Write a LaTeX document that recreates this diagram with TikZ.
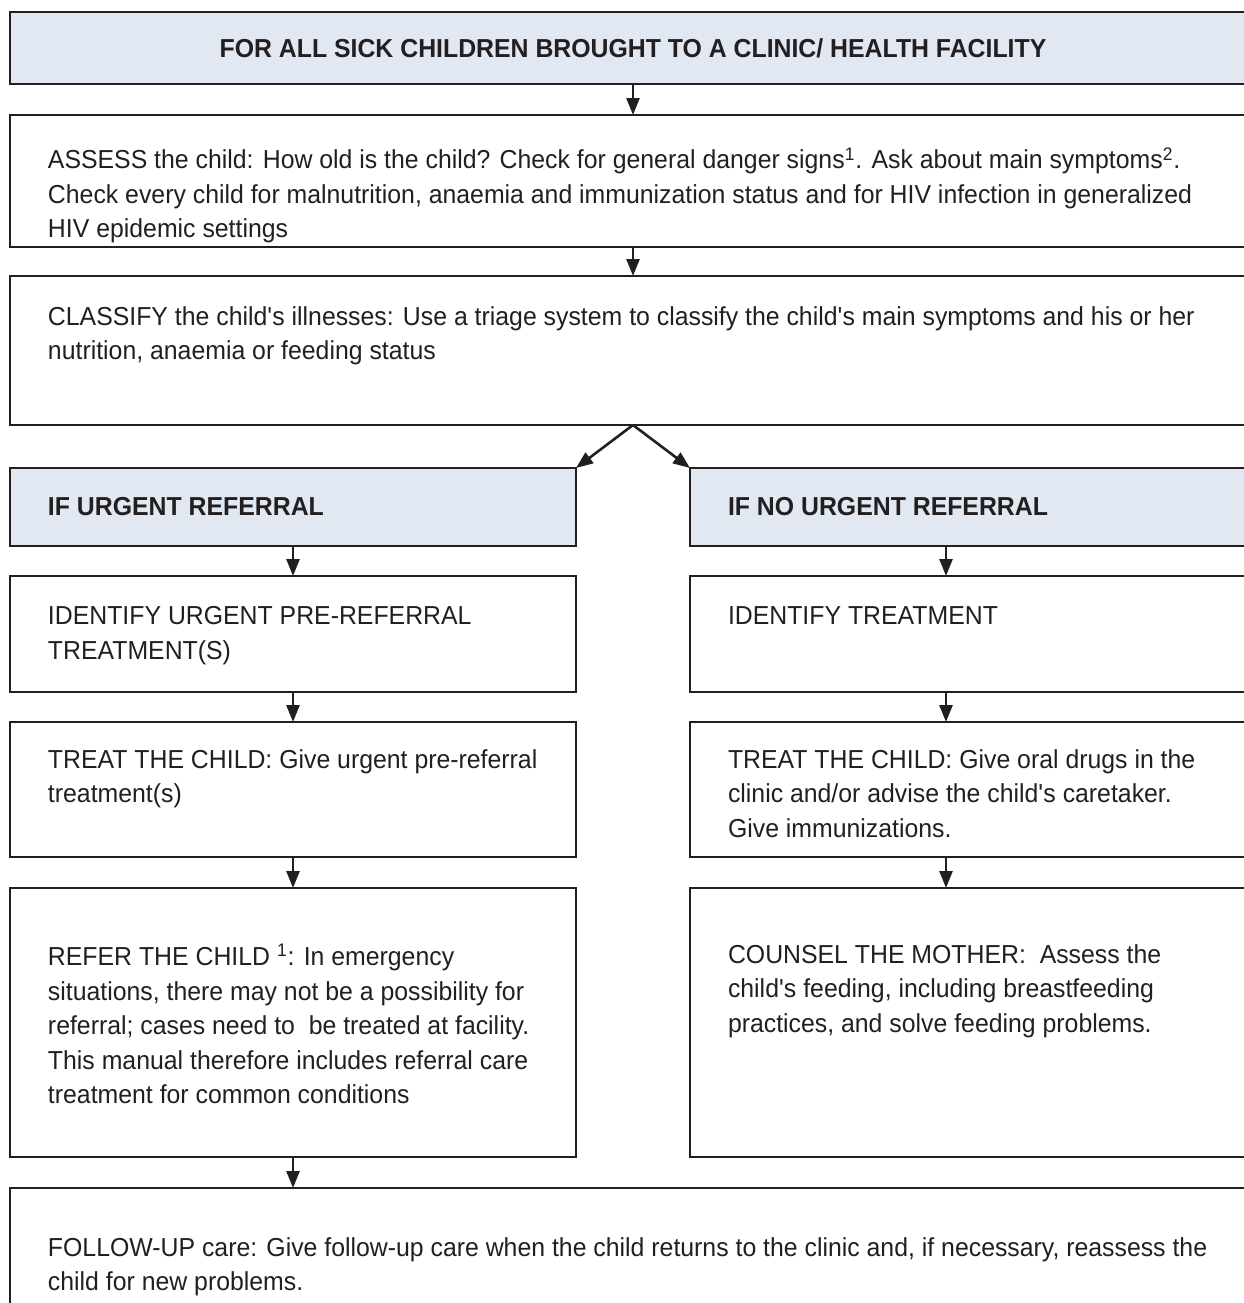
\documentclass[tikz,border=0pt]{standalone}
\usepackage{fontspec}
\setmainfont{Liberation Sans}[FakeStretch=0.955]
\usetikzlibrary{positioning,arrows.meta}
\definecolor{boxblue}{HTML}{E1E8F2}
\definecolor{ink}{HTML}{231F20}

\begin{document}
\begin{tikzpicture}[
    x=0.5pt, y=-0.5pt,
    node distance=15pt,
    >={Triangle[length=8.5pt,width=6.5pt]},
    font=\fontsize{13}{17.25}\selectfont,
    box/.style={
        rectangle,
        draw=ink,
        line width=1.3pt,
        text=ink,
        inner sep=0pt,
        outer sep=0pt,
        fill=white,
        anchor=north west
    },
    head/.style={
        box,
        fill=boxblue,
        font=\fontsize{13}{17.25}\selectfont\bfseries
    },
    wide/.style={
        minimum width=623pt
    },
    half/.style={
        minimum width=283pt
    },
    link/.style={
        draw=ink,
        line width=1.3pt,
        ->
    }
  ]

\useasboundingbox (0,0) rectangle (1244,1303);
\clip (0,0) rectangle (1244,1303);

% // top of the chart
\node [head, wide] (heading) at (10,12)
 {\parbox[c][36pt][c]{623pt}{\centering FOR ALL SICK CHILDREN BROUGHT TO A CLINIC/ HEALTH FACILITY}};

\node [box, wide, below=15.5pt of heading.south west, anchor=north west] (assess)
 {\parbox[c][66pt][t]{623pt}{\raggedright\leftskip=19pt\vspace*{16.2pt}%
  ASSESS the child: How old is the child? Check for general danger signs\textsuperscript{1}. Ask about main symptoms\textsuperscript{2}.\\
  Check every child for malnutrition, anaemia and immunization status and for HIV infection in generalized\\
  HIV epidemic settings}};

\node [box, wide, below=14.5pt of assess.south west, anchor=north west] (classify)
 {\parbox[c][74.5pt][t]{623pt}{\raggedright\leftskip=19pt\vspace*{15.2pt}%
  CLASSIFY the child\textquotesingle s illnesses: Use a triage system to classify the child\textquotesingle s main symptoms and his or her\\
  nutrition, anaemia or feeding status}};

% // urgent referral
\node [head, half, below=21.5pt of classify.south west, anchor=north west] (urgent)
 {\parbox[c][39pt][c]{283pt}{\raggedright\leftskip=19pt IF URGENT REFERRAL}};

\node [box, half, below=15pt of urgent.south west, anchor=north west] (idurgent)
 {\parbox[c][58pt][t]{283pt}{\raggedright\leftskip=19pt\vspace*{15.2pt}%
  IDENTIFY URGENT PRE-REFERRAL\\
  TREATMENT(S)}};

\node [box, half, below=15pt of idurgent.south west, anchor=north west] (treaturgent)
 {\parbox[c][67.5pt][t]{283pt}{\raggedright\leftskip=19pt\vspace*{13.7pt}%
  TREAT THE CHILD: Give urgent pre-referral\\
  treatment(s)}};

\node [box, half, below=15.5pt of treaturgent.south west, anchor=north west] (refer)
 {\parbox[c][134.5pt][t]{283pt}{\raggedright\leftskip=19pt\vspace*{28.2pt}%
  REFER THE CHILD \textsuperscript{1}: In emergency\\
  situations, there may not be a possibility for\\
  referral; cases need to\ \ be treated at facility.\\
  This manual therefore includes referral care\\
  treatment for common conditions}};

% // no urgent referral
\node [head, half, right=57pt of urgent.north east, anchor=north west] (nourgent)
 {\parbox[c][39pt][c]{283pt}{\raggedright\leftskip=19pt IF NO URGENT REFERRAL}};

\node [box, half, below=15pt of nourgent.south west, anchor=north west] (idtreat)
 {\parbox[c][58pt][t]{283pt}{\raggedright\leftskip=19pt\vspace*{15.2pt}%
  IDENTIFY TREATMENT}};

\node [box, half, below=15pt of idtreat.south west, anchor=north west] (treatoral)
 {\parbox[c][67.5pt][t]{283pt}{\raggedright\leftskip=19pt\vspace*{13.7pt}%
  TREAT THE CHILD: Give oral drugs in the\\
  clinic and/or advise the child\textquotesingle s caretaker.\\
  Give immunizations.}};

\node [box, half, below=15.5pt of treatoral.south west, anchor=north west] (counsel)
 {\parbox[c][134.5pt][t]{283pt}{\raggedright\leftskip=19pt\vspace*{28.2pt}%
  COUNSEL THE MOTHER:\ \ Assess the\\
  child\textquotesingle s feeding, including breastfeeding\\
  practices, and solve feeding problems.}};

% // follow-up
\node [box, wide, below=15.5pt of refer.south west, anchor=north west] (followup)
 {\parbox[c][61pt][t]{623pt}{\raggedright\leftskip=19pt\vspace*{24.7pt}%
  FOLLOW-UP care: Give follow-up care when the child returns to the clinic and, if necessary, reassess the\\
  child for new problems.}};

\coordinate (rcol) at (946,0);

\draw [link] (heading) -- (assess);
\draw [link] (assess) -- (classify);
\draw [link] (classify.south) -- (urgent.north east);
\draw [link] (classify.south) -- (nourgent.north west);

\draw [link] (urgent) -- (idurgent);
\draw [link] (idurgent) -- (treaturgent);
\draw [link] (treaturgent) -- (refer);
\draw [link] (refer.south) -- (refer.south |- followup.north);

\draw [link] (nourgent.south -| rcol) -- (idtreat.north -| rcol);
\draw [link] (idtreat.south -| rcol) -- (treatoral.north -| rcol);
\draw [link] (treatoral.south -| rcol) -- (counsel.north -| rcol);

\end{tikzpicture}
\end{document}
